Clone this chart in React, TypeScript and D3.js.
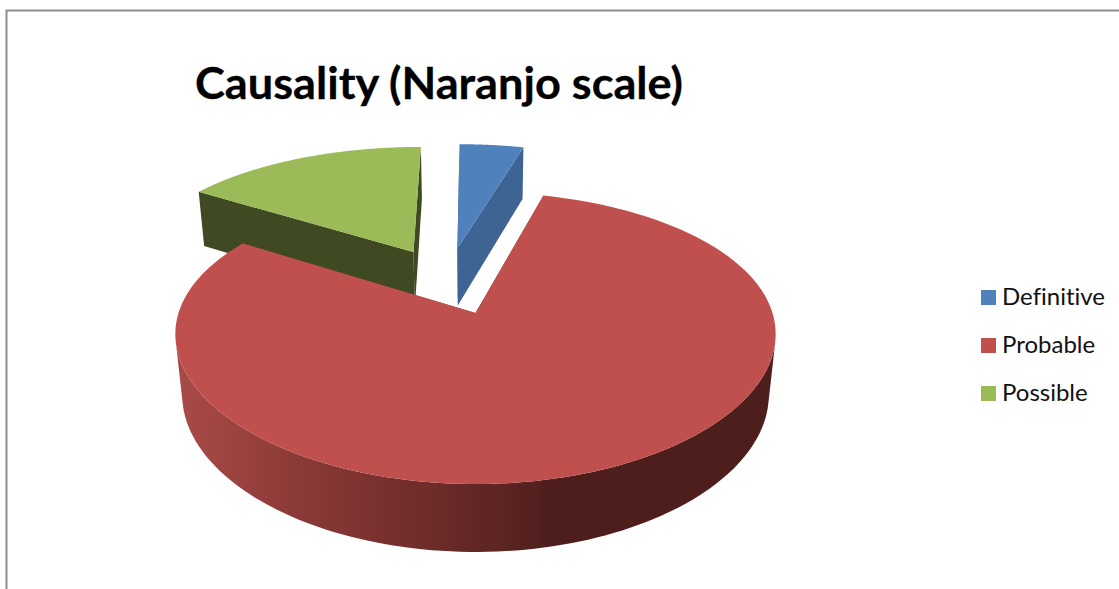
import React from "react";
import * as d3 from "d3";

// Share of cases per Naranjo causality category
const categories = ["Definitive", "Probable", "Possible"];
const shares = [4.2, 79.8, 16];
const topColors = ["#4f81bd", "#c0504d", "#9bbb59"];
const faceColors = ["#3e6494", "#7d3230", "#3f4a22"];
const legendRows = [297.5, 345.5, 393.5];

const title = "Causality (Naranjo scale)";

// Stops of the shading on the outer rim of the large slice
const rimStops = [
  { x: 175, color: "#aa4b48" },
  { x: 303, color: "#8a3936" },
  { x: 370, color: "#7c3230" },
  { x: 437, color: "#6c2b29" },
  { x: 503, color: "#5c2422" },
  { x: 553, color: "#4d1e1c" },
  { x: 776, color: "#4d1e1c" },
];

// Perspective camera for the tilted disc
const originX = 475.5;
const originY = 313;
const radiusX = 297;
const radiusY = 141.8;
const thickness = 61.8;
const tiltX = 0.145;
const tiltY = 0.171;
const sink = 0.023;
const explode = 0.257;
const rearShiftU = -0.006;

type P3 = [number, number, number];

const project = ([u, v, z]: P3): [number, number] => [
  originX + (radiusX * u) / (1 - tiltX * v + sink * z),
  originY + (radiusY * v + thickness * z) / (1 - tiltY * v + sink * z),
];

const direction = (a: number): [number, number] => [Math.sin(a), -Math.cos(a)];

const pieAngles = d3.pie<number>().sort(null).startAngle(0).endAngle(2 * Math.PI)(shares);
const bisector = (i: number) => (pieAngles[i].startAngle + pieAngles[i].endAngle) / 2;

// The large slice sits at the camera origin; the whole pie shifts accordingly
const largest = d3.maxIndex(shares);
const [baseU, baseV] = direction(bisector(largest)).map((d) => -explode * d);

const toPath = d3.line<[number, number]>();

const slices = pieAngles.map((arc, i) => {
  const [du, dv] = direction(bisector(i));
  const cu = baseU + explode * du + (i === largest ? 0 : rearShiftU);
  const cv = baseV + explode * dv;
  const steps = d3.range(0, 181).map((t) => arc.startAngle + ((arc.endAngle - arc.startAngle) * t) / 180);
  const rimPoint = (a: number, z: number): P3 => {
    const [su, sv] = direction(a);
    return [cu + su, cv + sv, z];
  };
  const topArc = steps.map((a) => project(rimPoint(a, 0)));
  const bottomArc = steps.map((a) => project(rimPoint(a, 1)));
  const apexTop = project([cu, cv, 0]);
  const apexBottom = project([cu, cv, 1]);
  const face = (a: number) =>
    toPath([apexTop, project(rimPoint(a, 0)), project(rimPoint(a, 1)), apexBottom])! + "Z";
  // Camera-facing quads merged into one path, which closes the silhouette without seams
  const rim = d3
    .pairs(d3.range(steps.length))
    .map(([a, b]) => [topArc[a], topArc[b], bottomArc[b], bottomArc[a]] as [number, number][])
    .filter((quad) => d3.polygonArea(quad) > 0)
    .map((quad) => toPath(quad)! + "Z")
    .join("");
  return {
    top: toPath([apexTop, ...topArc])! + "Z",
    rim,
    faces: [face(arc.startAngle), face(arc.endAngle)],
  };
});

// Small slices sit behind the large front slice
const paintOrder = d3.range(shares.length).sort((a, b) => shares[a] - shares[b]);

export default function App() {
  return (
    <svg
      width={1119}
      height={589}
      viewBox="0 0 1119 589"
      style={{ position: "absolute", left: 0, top: 0, background: "#fff" }}
    >
      <defs>
        <linearGradient id="rimShade" gradientUnits="userSpaceOnUse" x1={175} x2={776} y1={0} y2={0}>
          {rimStops.map((s) => (
            <stop key={s.x} offset={(s.x - 175) / (776 - 175)} stopColor={s.color} />
          ))}
        </linearGradient>
      </defs>

      <path d="M6.5,589V10.5H1119" fill="none" stroke="#8e8e8e" strokeWidth={2} />

      <text
        x={195}
        y={99}
        fontFamily="Lato, 'Open Sans', sans-serif"
        fontWeight={700}
        fontSize={43}
        textLength={488}
        lengthAdjust="spacingAndGlyphs"
        fill="#000"
        stroke="#000"
        strokeWidth={0.3}
        style={{ fontVariantLigatures: "none" }}
      >
        {title}
      </text>

      {paintOrder.map((i) => (
        <g key={categories[i]}>
          {slices[i].faces.map((d, j) => (
            <path key={j} d={d} fill={faceColors[i]} />
          ))}
          <path d={slices[i].rim} fill={i === largest ? "url(#rimShade)" : faceColors[i]} />
          <path d={slices[i].top} fill={topColors[i]} />
        </g>
      ))}

      {categories.map((name, i) => (
        <g key={name}>
          <rect x={981} y={legendRows[i] - 7.5} width={15} height={15} fill={topColors[i]} />
          <text
            x={1002}
            y={legendRows[i] + 7.5}
            fontFamily="Lato, 'Open Sans', sans-serif"
            fontSize={24}
            fill="#111"
            style={{ fontVariantLigatures: "none" }}
          >
            {name}
          </text>
        </g>
      ))}
    </svg>
  );
}
